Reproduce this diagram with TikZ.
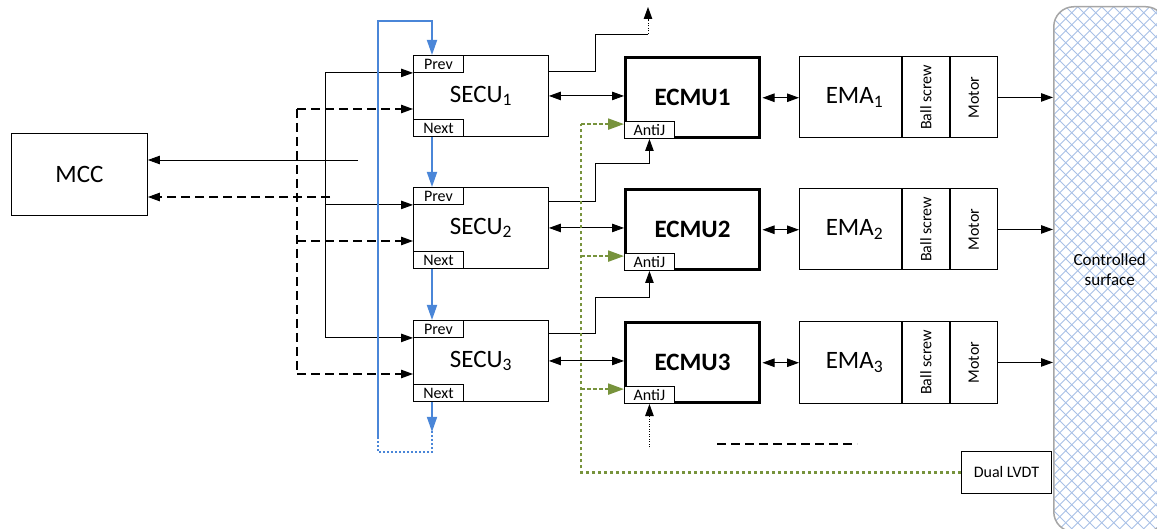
\documentclass[tikz,border=0pt]{standalone}
\usepackage{fontspec}
\setmainfont{Carlito}
\usetikzlibrary{arrows.meta,calc}
\definecolor{chainblue}{RGB}{74,134,216}
\definecolor{lvdtgreen}{RGB}{119,147,60}
\definecolor{hatchblue}{RGB}{168,192,230}
\definecolor{surfgray}{RGB}{166,166,166}
\newcommand{\bigfont}{\fontsize{25}{30}\selectfont}
\newcommand{\smallfont}{\fontsize{16}{19}\selectfont}
\begin{document}
\begin{tikzpicture}[x=1pt,y=-1pt,
  box/.style={draw, fill=white, line width=0.9pt, inner sep=0pt, anchor=north west},
  tag/.style={draw, fill=white, line width=0.9pt, inner sep=0pt, minimum width=50pt, minimum height=17pt, font=\smallfont},
  ecmubox/.style={draw, fill=white, line width=3pt, inner sep=0pt, anchor=north west, minimum width=134pt, minimum height=79.5pt, font=\bigfont\bfseries},
  conn/.style={line width=0.9pt},
  arr/.style={line width=0.9pt, -{Triangle[length=12pt,width=8.5pt]}},
  darr/.style={line width=0.9pt, {Triangle[length=12pt,width=8.5pt]}-{Triangle[length=12pt,width=8.5pt]}},
  dashline/.style={line width=1.1pt, dash pattern=on 9pt off 5pt},
  dasharr/.style={arr, line width=1.1pt, dash pattern=on 9pt off 5pt},
  dotarr/.style={arr, dash pattern=on 1pt off 1.5pt},
  bluearr/.style={draw=chainblue, line width=1.8pt, -{Triangle[length=15pt,width=10pt]}},
  bluedot/.style={draw=chainblue, line width=1.5pt, dash pattern=on 2pt off 2pt},
  greenline/.style={draw=lvdtgreen, line width=2.2pt, dash pattern=on 3.5pt off 2.5pt},
  greenarr/.style={greenline, -{Triangle[length=16pt,width=11pt]}},
  hatch/.style={draw=hatchblue, line width=0.9pt}
]
\useasboundingbox (0,0) rectangle (1157,529);

% controlled surface
\node[draw=surfgray, line width=1.5pt, rounded corners=20pt, minimum width=112pt, minimum height=525pt,
      anchor=north west, inner sep=0pt, align=center, font=\fontsize{17}{20}\selectfont,
      path picture={
        \foreach \k in {-50,...,12}{
          \draw[hatch] ([xshift=\k*12pt]path picture bounding box.north west) -- ++(600,600);
        }
        \foreach \k in {0,...,60}{
          \draw[hatch] ([xshift=\k*12pt]path picture bounding box.north west) -- ++(-600,600);
        }
      }] (surf) at (1053,6) {Controlled\\surface};

% MCC
\node[box, minimum width=136pt, minimum height=82pt, font=\bigfont] (mcc) at (11,133) {MCC};

% rows
\foreach \i/\t in {1/55,2/187,3/320}{
  \node[box, minimum width=135pt, minimum height=81pt, font=\bigfont] (secu\i) at (413,\t) {SECU\textsubscript{\i}};
  \node[tag, anchor=north west] (prev\i) at (secu\i.north west) {Prev};
  \node[tag, anchor=south west] (next\i) at (secu\i.south west) {Next};
  \node[ecmubox] (ecmu\i) at (624,\t+1.5) {ECMU\i};
  \node[tag, anchor=south west] (antij\i) at (ecmu\i.south west) {AntiJ};
  \node[box, minimum width=102pt, minimum height=81pt, font=\bigfont] (ema\i) at (799,\t+1.5) {\hspace*{8pt}EMA\textsubscript{\i}};
  \node[box, minimum width=47pt, minimum height=81pt] (bs\i) at (ema\i.north east) {};
  \node[box, minimum width=47pt, minimum height=81pt] (mot\i) at (bs\i.north east) {};
  \node[rotate=90, font=\smallfont] (bst\i) at (bs\i.center) {Ball screw};
  \node[rotate=90, font=\smallfont] (mott\i) at (mot\i.center) {Motor};
  % links
  \draw[darr] (secu\i.east) -- (secu\i.east -| ecmu\i.west);
  \draw[darr] ([xshift=1.5pt]ecmu\i.east) -- (ecmu\i.east -| ema\i.west);
  \draw[arr] (mot\i.east) -- (mot\i.east -| surf.west);
}

% Dual LVDT
\node[box, minimum width=90pt, minimum height=42pt, font=\smallfont] (dual) at (961,451) {Dual LVDT};

% MCC links
\coordinate (mccS) at (358,160);
\coordinate (mccD) at (330,197);
\draw[arr] (mccS) -- (mccS -| mcc.east);
\draw[dasharr] (mccD) -- (mccD -| mcc.east);

% solid bus to Prev level
\coordinate (bx) at (325,0);
\draw[conn] (bx |- prev1.south west) -- (bx |- prev3.south west);
\foreach \i in {1,2,3}{
  \draw[arr] (bx |- prev\i.south west) -- (prev\i.south west);
}

% dashed bus
\coordinate (dx) at (297,0);
\foreach \i in {1,2,3}{
  \coordinate (din\i) at ($(secu\i.north west)+(0,54)$);
}
\draw[dashline] (dx |- din1) -- (dx |- din3);
\foreach \i in {1,2,3}{
  \draw[dasharr] (dx |- din\i) -- (din\i);
}

% blue chain
\coordinate (bt) at (432,21);
\coordinate (bl) at (378,437);
\coordinate (bb) at (432,452);
\draw[bluearr] (bl) -- (bl |- bt) -- (bt) -- (bt |- secu1.north);
\draw[bluearr] (bt |- next1.south) -- (bt |- prev2.north);
\draw[bluearr] (bt |- next2.south) -- (bt |- prev3.north);
\draw[bluearr] (bt |- next3.south) -- ($(bt |- next3.south)+(0,30)$);
\draw[bluedot] ($(bt |- next3.south)+(0,29)$) -- (bb) -- (bb -| bl) -- (bl);

% SECU right-side feeds
\coordinate (jx) at (595,0);
\coordinate (up) at (648,7);
\draw[conn] ($(secu1.north east)+(0,16)$) -| (jx |- 0,34) -- (up |- 0,34);
\draw[dotarr] (up |- 0,34) -- (up);
\draw[arr] ($(secu2.north east)+(0,14)$) -| (jx |- 0,163) -| (antij1.south);
\draw[arr] ($(secu3.north east)+(0,13)$) -| (jx |- 0,297) -| (antij2.south);
\coordinate (e3in) at (antij3.south |- 0,447);
\draw[dotarr] (e3in) -- (antij3.south);

% green LVDT feedback
\coordinate (gx) at (581,0);
\foreach \i in {1,2,3}{
  \coordinate (ga\i) at ($(antij\i.north west)+(0,3)$);
}
\draw[greenline] (dual.west) -- (gx |- dual.west) -- (gx |- ga1);
\foreach \i in {1,2,3}{
  \draw[greenarr] (gx |- ga\i) -- (ga\i);
}

% lone dashed line
\coordinate (dl1) at (717,444);
\coordinate (dl2) at (857,444);
\draw[dashline] (dl1) -- (dl2);

\end{tikzpicture}
\end{document}
